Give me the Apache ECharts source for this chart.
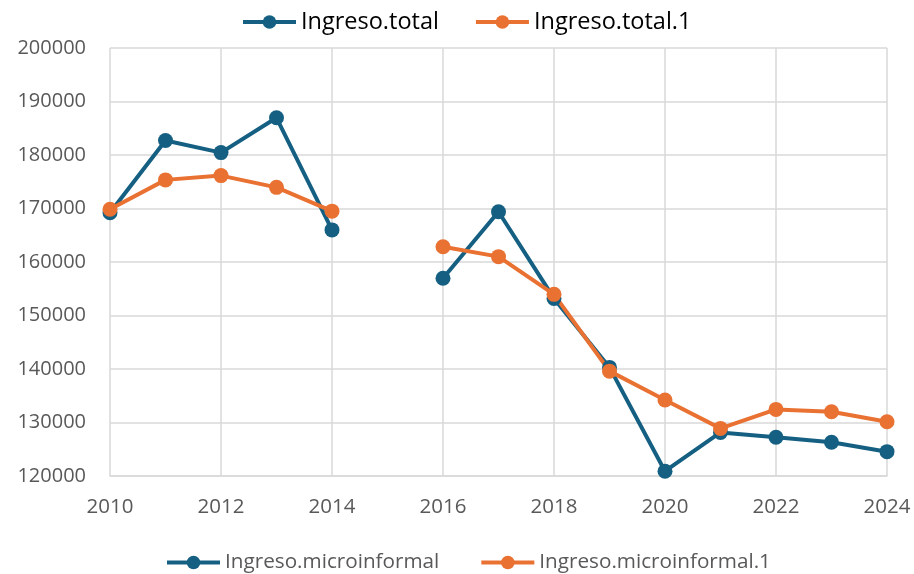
<!DOCTYPE html>
<html>
<head>
<meta charset="utf-8">
<script src="https://cdn.jsdelivr.net/npm/echarts@6/dist/echarts.min.js"></script>
<style>html,body{margin:0;padding:0;background:#fff}#c{width:914px;height:574px}</style>
</head>
<body>
<div id="c"></div>
<script>
const yearsA = [2010, 2011, 2012, 2013, 2014];
const totalA = [169200, 182700, 180450, 186950, 166000];
const total1A = [169850, 175350, 176150, 173950, 169500];
const yearsB = [2016, 2017, 2018, 2019, 2020, 2021, 2022, 2023, 2024];
const microB = [156950, 169400, 153200, 140300, 120900, 128150, 127250, 126300, 124550];
const micro1B = [162850, 161000, 153950, 139600, 134200, 128900, 132450, 132000, 130150];
const yRange = {min: 120000, max: 200000, step: 10000};
const xRange = {min: 2010, max: 2024, step: 2};

const BLUE = '#156082', ORANGE = '#E97132';
const FONT = 'Open Sans';
const pairs = (xs, ys) => xs.map((x, i) => [x, ys[i]]);

function lineSeries(name, xs, ys, color) {
  return {
    name: name, type: 'line', data: pairs(xs, ys),
    symbol: 'circle', symbolSize: 15,
    lineStyle: {color: color, width: 4},
    itemStyle: {color: color},
    emphasis: {disabled: true},
    animation: false
  };
}

const chart = echarts.init(document.getElementById('c'), null, {renderer: 'canvas'});
chart.setOption({
  backgroundColor: '#fff',
  animation: false,
  grid: {left: 110, right: 27, top: 48, bottom: 98, containLabel: false},
  legend: [
    {data: ['Ingreso.total', 'Ingreso.total.1'], top: 5, left: 236,
     itemWidth: 53, itemHeight: 17, itemGap: 35,
     lineStyle: {width: 4},
     textStyle: {fontFamily: FONT, fontSize: 23.5, color: '#000'}},
    {data: ['Ingreso.microinformal', 'Ingreso.microinformal.1'], top: 547, left: 160,
     itemWidth: 53, itemHeight: 17, itemGap: 40,
     lineStyle: {width: 4},
     textStyle: {fontFamily: FONT, fontSize: 20.7, color: '#595959'}}
  ],
  xAxis: {
    type: 'value', min: xRange.min, max: xRange.max, interval: xRange.step,
    axisLine: {show: true, lineStyle: {color: '#d9d9d9', width: 1.5}},
    axisTick: {show: false},
    splitLine: {show: true, lineStyle: {color: '#d9d9d9', width: 1.5}},
    axisLabel: {fontFamily: FONT, fontSize: 20.5, color: '#595959', margin: 21, formatter: v => String(v)}
  },
  yAxis: {
    type: 'value', min: yRange.min, max: yRange.max, interval: yRange.step,
    axisLine: {show: false}, axisTick: {show: false},
    splitLine: {show: true, lineStyle: {color: '#d9d9d9', width: 1.5}},
    axisLabel: {fontFamily: FONT, fontSize: 20, color: '#595959', margin: 24, formatter: v => String(v)}
  },
  series: [
    lineSeries('Ingreso.total', yearsA, totalA, BLUE),
    lineSeries('Ingreso.total.1', yearsA, total1A, ORANGE),
    lineSeries('Ingreso.microinformal', yearsB, microB, BLUE),
    lineSeries('Ingreso.microinformal.1', yearsB, micro1B, ORANGE)
  ]
});
</script>
</body>
</html>
